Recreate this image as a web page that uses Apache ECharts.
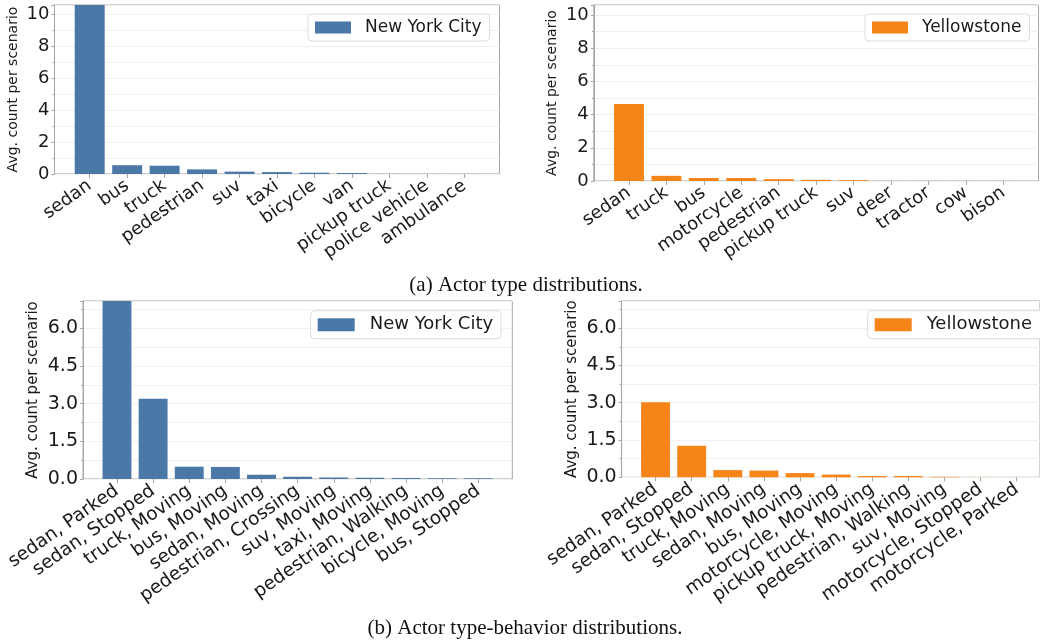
<!DOCTYPE html>
<html>
<head>
<meta charset="utf-8">
<title>Actor distributions</title>
<script src="https://cdn.jsdelivr.net/npm/echarts@6/dist/echarts.min.js"></script>
<style>
  html, body { margin: 0; padding: 0; background: #fff; }
  #chart { width: 1040px; height: 642px; }
</style>
</head>
<body>
<div id="chart"></div>
<script>
// Actor type counts
const nycTypes = ['sedan', 'bus', 'truck', 'pedestrian', 'suv', 'taxi', 'bicycle', 'van', 'pickup truck', 'police vehicle', 'ambulance'];
const nycTypeCounts = [10.6, 0.55, 0.52, 0.29, 0.15, 0.12, 0.08, 0.06, 0.005, 0.003, 0.002];
const ysTypes = ['sedan', 'truck', 'bus', 'motorcycle', 'pedestrian', 'pickup truck', 'suv', 'deer', 'tractor', 'cow', 'bison'];
const ysTypeCounts = [4.63, 0.31, 0.18, 0.18, 0.11, 0.07, 0.05, 0.005, 0.003, 0.002, 0.002];

// Actor type-behavior counts
const nycBehaviors = ['sedan, Parked', 'sedan, Stopped', 'truck, Moving', 'bus, Moving', 'sedan, Moving', 'pedestrian, Crossing', 'suv, Moving', 'taxi, Moving', 'pedestrian, Walking', 'bicycle, Moving', 'bus, Stopped'];
const nycBehaviorCounts = [7.09, 3.2, 0.49, 0.48, 0.17, 0.09, 0.06, 0.05, 0.04, 0.03, 0.03];
const ysBehaviors = ['sedan, Parked', 'sedan, Stopped', 'truck, Moving', 'sedan, Moving', 'bus, Moving', 'motorcycle, Moving', 'pickup truck, Moving', 'pedestrian, Walking', 'suv, Moving', 'motorcycle, Stopped', 'motorcycle, Parked'];
const ysBehaviorCounts = [3.02, 1.27, 0.29, 0.27, 0.17, 0.11, 0.05, 0.05, 0.02, 0.005, 0.003];

// Axis settings
const typeAxisMax = 10.6;
const typeAxisStep = 2;
const behaviorAxisMax = 7.09;
const behaviorAxisStep = 1.5;

const NYC = 'New York City';
const YS = 'Yellowstone';
const NYC_COLOR = '#4c78a8';
const YS_COLOR = '#f58518';
const SANS = 'DejaVu Sans';
const INK = '#1a1a1a';
const SPINE = '#a6a6a6';
const GRIDLINE = '#f0f0f0';

// Panel layout: frame = [left, top, right, bottom] of the plot box in pixels
const panels = [
  { cats: nycTypes, vals: nycTypeCounts, name: NYC, color: NYC_COLOR, yMax: typeAxisMax, step: typeAxisStep, dec: 0,
    frame: [54.5, 5, 499.5, 174], font: 18, tickFont: 18, nameFont: 14, nameGap: 34,
    legend: { left: 308, top: 14, font: 17, iw: 36, ih: 12, gap: 9, pad: [5, 8, 5, 7] } },
  { cats: ysTypes, vals: ysTypeCounts, name: YS, color: YS_COLOR, yMax: typeAxisMax, step: typeAxisStep, dec: 0,
    frame: [593.8, 5, 1038.5, 181], font: 18, tickFont: 18, nameFont: 14, nameGap: 34,
    legend: { left: 865, top: 14, font: 17, iw: 36, ih: 12, gap: 9, pad: [5, 8, 5, 7] } },
  { cats: nycBehaviors, vals: nycBehaviorCounts, name: NYC, color: NYC_COLOR, yMax: behaviorAxisMax, step: behaviorAxisStep, dec: 1,
    frame: [83, 301, 512.3, 479], font: 18.5, tickFont: 19, nameFont: 15, nameGap: 42,
    legend: { left: 310.7, top: 310.7, font: 18, iw: 37, ih: 13, gap: 10, pad: [5, 8, 5, 7] } },
  { cats: ysBehaviors, vals: ysBehaviorCounts, name: YS, color: YS_COLOR, yMax: behaviorAxisMax, step: behaviorAxisStep, dec: 1,
    frame: [621.6, 301, 1050.7, 477.3], font: 18.5, tickFont: 19, nameFont: 15, nameGap: 42,
    legend: { left: 867.7, top: 310.7, font: 18, iw: 37, ih: 13, gap: 10, pad: [5, 14, 5, 7] } }
];

const W = 1040, H = 642;
const grid = [], xAxis = [], yAxis = [], series = [], legend = [];

panels.forEach((p, k) => {
  const [l, t, r, b] = p.frame;
  // x range spans -0.94 .. n-0.06 (bar half-width plus margins); bars sit in -0.5 .. n-0.5
  const n = p.cats.length;
  const band = (r - l) / (n + 0.88);
  const inset = 0.44 * band;

  // frame grid: box, y ticks, gridlines
  grid.push({ left: l, top: t, width: r - l, height: b - t, show: true, borderColor: SPINE, borderWidth: 1, backgroundColor: '#fff' });
  // bar grid: category bands
  grid.push({ left: l + inset, top: t, width: r - l - 2 * inset, height: b - t });

  xAxis.push({ type: 'value', gridIndex: 2 * k, min: 0, max: 1, show: false });
  xAxis.push({
    type: 'category', gridIndex: 2 * k + 1, data: p.cats,
    axisLine: { show: false },
    axisTick: { show: true, alignWithLabel: true, length: 4, lineStyle: { color: SPINE } },
    axisLabel: { interval: 0, rotate: 35, margin: 10, fontSize: p.font, fontFamily: SANS, color: INK },
    splitLine: { show: false }
  });

  yAxis.push({
    type: 'value', gridIndex: 2 * k, min: 0, max: p.yMax, interval: p.step,
    name: 'Avg. count per scenario', nameLocation: 'middle', nameGap: p.nameGap,
    nameTextStyle: { fontSize: p.nameFont, fontFamily: SANS, color: INK },
    axisLine: { show: true, lineStyle: { color: SPINE } },
    axisTick: { show: true, length: 3, lineStyle: { color: SPINE } },
    minorTick: { show: true, splitNumber: 2, length: 2, lineStyle: { color: SPINE } },
    axisLabel: { showMaxLabel: false, margin: 5, fontSize: p.tickFont, fontFamily: SANS, color: INK,
      formatter: v => v.toFixed(p.dec) },
    splitLine: { show: true, lineStyle: { color: GRIDLINE, width: 1 } },
    minorSplitLine: { show: true, lineStyle: { color: GRIDLINE, width: 1 } }
  });
  yAxis.push({ type: 'value', gridIndex: 2 * k + 1, min: 0, max: p.yMax, show: false, splitLine: { show: false } });

  series.push({
    type: 'bar', name: p.name, xAxisIndex: 2 * k + 1, yAxisIndex: 2 * k + 1,
    data: p.vals, barWidth: '80%', z: 3,
    itemStyle: { color: p.color, borderWidth: 0 }
  });

  legend.push({
    data: [p.name], left: p.legend.left, top: p.legend.top,
    icon: 'rect', itemWidth: p.legend.iw, itemHeight: p.legend.ih,
    padding: p.legend.pad, borderColor: '#dcdcdc', borderWidth: 1, borderRadius: 4, backgroundColor: '#fff',
    itemStyle: { borderWidth: 0 },
    textStyle: { fontSize: p.legend.font, fontFamily: SANS, color: INK, padding: [0, 0, 0, p.legend.gap] },
    selectedMode: false
  });
});

const chart = echarts.init(document.getElementById('chart'), null, { renderer: 'canvas', width: W, height: H });
chart.setOption({
  animation: false,
  backgroundColor: '#fff',
  grid, xAxis, yAxis, series, legend,
  graphic: [
    { type: 'text', x: 526, y: 285, style: { text: '(a) Actor type distributions.', font: '21px "Liberation Serif"', fill: '#111', textAlign: 'center', textVerticalAlign: 'middle' } },
    { type: 'text', x: 525, y: 628, style: { text: '(b) Actor type-behavior distributions.', font: '21px "Liberation Serif"', fill: '#111', textAlign: 'center', textVerticalAlign: 'middle' } }
  ]
});
</script>
</body>
</html>
